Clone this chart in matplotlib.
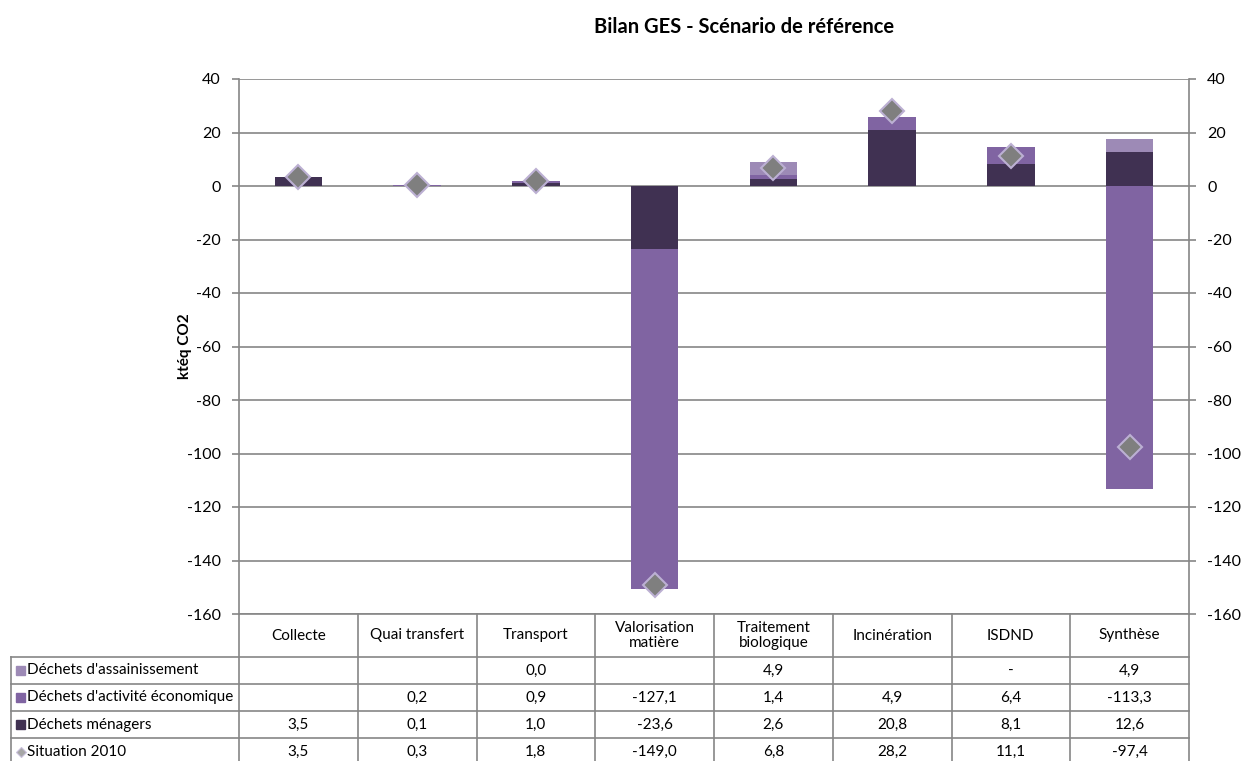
import numpy as np
import matplotlib
matplotlib.use("Agg")
import matplotlib.pyplot as plt
from matplotlib.transforms import blended_transform_factory
from matplotlib.patches import Rectangle

plt.rcParams['font.family'] = ['Lato', 'DejaVu Sans']
plt.rcParams['axes.unicode_minus'] = False

# categories of the waste chain
categories = ["Collecte", "Quai transfert", "Transport", "Valorisation\nmatière",
              "Traitement\nbiologique", "Incinération", "ISDND", "Synthèse"]

# kteq CO2 by waste type (None = empty cell)
assainissement = [None, None, 0.0, None, 4.9, None, 0.0, 4.9]
activite = [None, 0.2, 0.9, -127.1, 1.4, 4.9, 6.4, -113.3]
menagers = [3.5, 0.1, 1.0, -23.6, 2.6, 20.8, 8.1, 12.6]
situation_2010 = [3.5, 0.3, 1.8, -149.0, 6.8, 28.2, 11.1, -97.4]

# cells shown as a dash instead of a number
dash_cells = {("assainissement", 6)}

series = [
    ("menagers", "Déchets ménagers", menagers, "#403152"),
    ("activite", "Déchets d'activité économique", activite, "#8064a2"),
    ("assainissement", "Déchets d'assainissement", assainissement, "#9d8ab6"),
]

W, H = 1246, 761
fig = plt.figure(figsize=(W / 100, H / 100), dpi=100)

def fy(py):
    return 1 - py / H

ax_left, ax_right, ax_top, ax_bot = 239, 1189, 79, 614
ax = fig.add_axes([ax_left / W, fy(ax_bot), (ax_right - ax_left) / W, (ax_bot - ax_top) / H])

grey = "#868686"
x = np.arange(len(categories))
width = 0.4

# stack positives upward and negatives downward, like a spreadsheet chart
pos_base = np.zeros(len(x))
neg_base = np.zeros(len(x))
for key, label, vals, color in series:
    v = np.array([0.0 if a is None else a for a in vals])
    bottoms = np.where(v >= 0, pos_base, neg_base)
    ax.bar(x, v, width, bottom=bottoms, color=color, linewidth=0, zorder=3)
    pos_base += np.where(v >= 0, v, 0)
    neg_base += np.where(v < 0, v, 0)

ax.plot(x, situation_2010, linestyle="none", marker="D", markersize=12,
        markerfacecolor="#7f7f7f", markeredgecolor="#bcb0d3", markeredgewidth=1.5,
        zorder=5, clip_on=False)

ax.set_xlim(-0.5, len(x) - 0.5)
ax.set_ylim(-160, 40)
ax.set_yticks(np.arange(-160, 41, 20))
ax.set_xticks([])
ax.grid(axis="y", color=grey, linewidth=1.2, zorder=1)
for side in ["top", "bottom"]:
    ax.spines[side].set_visible(False)
for side in ["left", "right"]:
    ax.spines[side].set_color(grey)
    ax.spines[side].set_linewidth(1.2)
ax.tick_params(axis="y", which="both", left=True, right=True, labelleft=True, labelright=True,
               direction="out", length=5, width=1.2, color=grey, labelsize=11.5, pad=8)
ax.set_ylabel("ktéq CO2", fontsize=11, fontweight="bold")
ax.yaxis.set_label_coords(-0.05, 0.5)

fig.text(744 / W, fy(27), "Bilan GES - Scénario de référence", ha="center", va="center",
         fontsize=14.5, fontweight="bold")

# data table under the plot
tr = blended_transform_factory(ax.transData, fig.transFigure)
px_per_unit = (ax_right - ax_left) / len(x)
table_left = -0.5 - (ax_left - 11) / px_per_unit
header_bot = 657
row_h = 27
n_rows = 4
line_kw = dict(color=grey, linewidth=1.2, transform=tr, clip_on=False)

ax.plot([-0.5, len(x) - 0.5], [fy(ax_bot)] * 2, **line_kw)
for i in range(len(x) + 1):
    ax.plot([i - 0.5] * 2, [fy(ax_bot), fy(header_bot + n_rows * row_h)], **line_kw)
for r in range(n_rows + 1):
    yy = fy(header_bot + r * row_h)
    ax.plot([table_left, len(x) - 0.5], [yy, yy], **line_kw)
ax.plot([table_left] * 2, [fy(header_bot), fy(header_bot + n_rows * row_h)], **line_kw)

for i, cat in enumerate(categories):
    ax.text(i, fy((ax_bot + header_bot) / 2), cat, transform=tr, ha="center", va="center",
            fontsize=11, linespacing=1.1)

def fmt(v):
    return "" if v is None else f"{v:.1f}".replace(".", ",")

rows = [("assainissement", "Déchets d'assainissement", assainissement, "#9d8ab6"),
        ("activite", "Déchets d'activité économique", activite, "#8064a2"),
        ("menagers", "Déchets ménagers", menagers, "#403152"),
        ("situation", "Situation 2010", situation_2010, None)]

key_x0 = 16 / W
for r, (key, label, vals, color) in enumerate(rows):
    yc = fy(header_bot + r * row_h + row_h / 2)
    if color is not None:
        fig.add_artist(Rectangle((key_x0, yc - 4.5 / H), 9 / W, 9 / H, color=color,
                                 transform=fig.transFigure))
    else:
        fig.add_artist(plt.Line2D([key_x0 + 4.5 / W], [yc], marker="D", markersize=5,
                                  markerfacecolor="#a6a6a6", markeredgecolor="#c9c0dc",
                                  markeredgewidth=0.8, transform=fig.transFigure))
    fig.text(27 / W, yc, label, ha="left", va="center", fontsize=11)
    for i, v in enumerate(vals):
        txt = "-" if (key, i) in dash_cells else fmt(v)
        ax.text(i, yc, txt, transform=tr, ha="center", va="center", fontsize=11)

fig.savefig("out.png", dpi=100)
